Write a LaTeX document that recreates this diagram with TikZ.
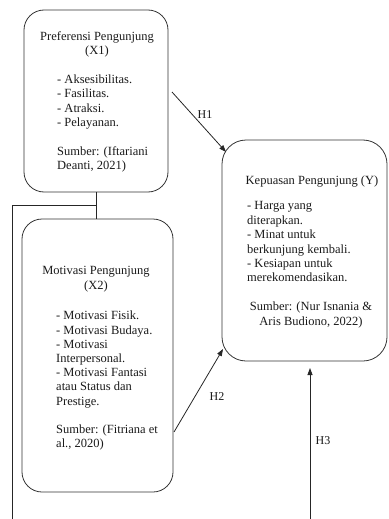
\documentclass[tikz,border=0pt]{standalone}
\usepackage{fontspec}
\setmainfont{Liberation Serif}
\usetikzlibrary{arrows.meta}
\begin{document}
\begin{tikzpicture}[x=1pt,y=-1pt,
  box/.style={draw=black!80, line width=0.8pt, rounded corners=20pt, inner sep=0pt},
  txt/.style={inner sep=0pt, font=\fontsize{12.5}{14.4}\selectfont, text=black!90},
  conn/.style={draw=black!85, line width=0.8pt},
  arr/.style={conn, -{Triangle[length=7pt,width=5pt]}},
  lbl/.style={inner sep=0pt, font=\fontsize{12}{14}\selectfont, text=black!90}]
\useasboundingbox (0,0) rectangle (388,519);
% boxes
\node[box, minimum width=144pt, minimum height=182pt] (x1) at (96,101) {};
\node[box, minimum width=151pt, minimum height=273pt] (x2) at (97.5,355.5) {};
\node[box, minimum width=165pt, minimum height=221pt, rounded corners=24pt] (y) at (304.5,250.5) {};
% texts X1
\node[txt, anchor=north, align=center] (x1t) at (97,31.5) {Preferensi Pengunjung\\(X1)};
\node[txt, anchor=north west, align=left] (x1b) at (57,74.5) {- Aksesibilitas.\\- Fasilitas.\\- Atraksi.\\- Pelayanan.\\[14.4pt]Sumber: (Iftariani\\Deanti, 2021)};
% texts X2
\node[txt, anchor=north, align=center] (x2t) at (96,266.5) {Motivasi Pengunjung\\(X2)};
\node[txt, anchor=north west, align=left, font=\fontsize{12.5}{14.2}\selectfont] (x2b) at (56,311) {- Motivasi Fisik.\\- Motivasi Budaya.\\- Motivasi\\Interpersonal.\\- Motivasi Fantasi\\atau Status dan\\Prestige.\\[14pt]Sumber: (Fitriana et\\al., 2020)};
% texts Y
\node[txt, anchor=north] (yt) at (312,176) {Kepuasan Pengunjung (Y)};
\node[txt, anchor=north west, align=left] (yb) at (247,201.5) {- Harga yang\\diterapkan.\\- Minat untuk\\berkunjung kembali.\\- Kesiapan untuk\\merekomendasikan.};
\node[txt, anchor=north, align=center] (ys) at (311,302) {Sumber: (Nur Isnania \&\\Aris Budiono, 2022)};
% connectors
\coordinate (j) at (x1.south |- 0,205);
\coordinate (lc) at (12,205);
\coordinate (le) at (12,519);
\draw[conn] (x1.south) -- (x1.south |- x2.north);
\draw[conn] (j) -- (lc) -- (le);
\coordinate (h1s) at (172,92);
\coordinate (h1e) at (226,152);
\draw[arr] (h1s) -- (h1e);
\coordinate (h2s) at (174,432);
\coordinate (h2e) at (223,349);
\draw[arr] (h2s) -- (h2e);
\coordinate (h3s) at (310,519);
\coordinate (h3e) at (310,368);
\draw[arr] (h3s) -- (h3e);
% labels
\node[lbl] (h1) at (205,115) {H1};
\node[lbl] (h2) at (217,397) {H2};
\node[lbl] (h3) at (323,441) {H3};
\end{tikzpicture}
\end{document}
